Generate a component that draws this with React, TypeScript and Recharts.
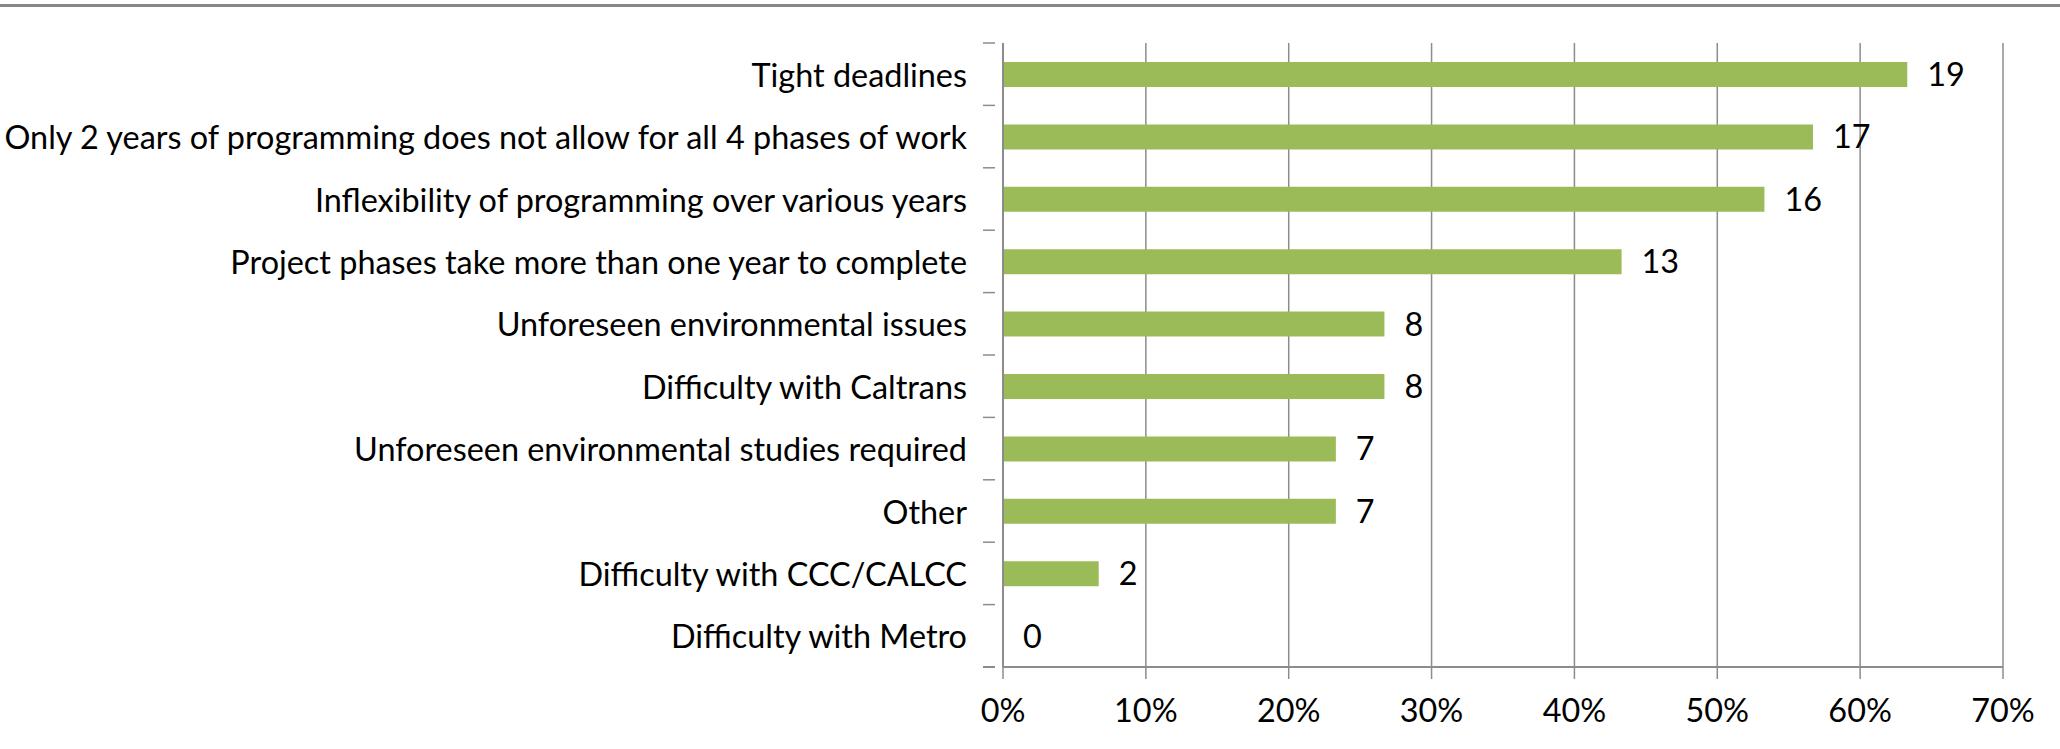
import React from 'react';
import { BarChart, Bar, XAxis, YAxis, CartesianGrid, LabelList } from 'recharts';

const categories = [
  'Tight deadlines',
  'Only 2 years of programming does not allow for all 4 phases of work',
  'Inflexibility of programming over various years',
  'Project phases take more than one year to complete',
  'Unforeseen environmental issues',
  'Difficulty with Caltrans',
  'Unforeseen environmental studies required',
  'Other',
  'Difficulty with CCC/CALCC',
  'Difficulty with Metro',
];
// share of respondents (%)
const percents = [63.3, 56.7, 53.3, 43.3, 26.7, 26.7, 23.3, 23.3, 6.7, 0];
// response counts printed at the bar ends
const counts = [19, 17, 16, 13, 8, 8, 7, 7, 2, 0];
const xTicks = [0, 10, 20, 30, 40, 50, 60, 70];

const data = categories.map((name, i) => ({ name, pct: percents[i], count: counts[i] }));

const FONT = 'Lato, "Open Sans", sans-serif';
const FS = 32.4;
const GRID = '#8c8c8c';
const TEXT = '#000000';

// Excel-style category tick: label centred in the band, tick marks on the band edges
const CategoryTick = (props: any) => {
  const { x, y, payload, index, visibleTicksCount } = props;
  const band = 62.4;
  const last = index === (visibleTicksCount ?? categories.length) - 1;
  return (
    <g>
      <line x1={x - 12} x2={x} y1={y - band / 2} y2={y - band / 2} stroke={GRID} strokeWidth={1.5} />
      {last && (
        <line x1={x - 12} x2={x} y1={y + band / 2} y2={y + band / 2} stroke={GRID} strokeWidth={2} />
      )}
      <text
        x={x - 28}
        y={y}
        textAnchor="end"
        dominantBaseline="central"
        fill={TEXT}
        fontSize={FS}
        fontFamily={FONT}
      >
        {payload.value}
      </text>
    </g>
  );
};

export default function App() {
  return (
    <div style={{ position: 'absolute', left: 0, top: 0, width: 2060, height: 749, background: '#fff' }}>
      <div style={{ position: 'absolute', left: 0, top: 4, width: 2060, height: 3, background: '#878787' }} />
      <BarChart
        width={2060}
        height={749}
        data={data}
        layout="vertical"
        margin={{ top: 43, right: 57, bottom: 0, left: 0 }}
      >
        <CartesianGrid horizontal={false} stroke={GRID} strokeWidth={1.5} />
        <XAxis
          type="number"
          domain={[0, 70]}
          ticks={xTicks}
          interval={0}
          height={82}
          tickFormatter={(v: number) => `${v}%`}
          tickSize={12}
          tickMargin={20}
          axisLine={{ stroke: GRID, strokeWidth: 2 }}
          tickLine={{ stroke: GRID, strokeWidth: 1.5 }}
          tick={{ fill: TEXT, fontSize: FS, fontFamily: FONT }}
        />
        <YAxis
          type="category"
          dataKey="name"
          width={1003}
          interval={0}
          tickLine={false}
          axisLine={{ stroke: GRID, strokeWidth: 2 }}
          tick={<CategoryTick />}
        />
        <Bar dataKey="pct" fill="#9bbb59" barSize={25} minPointSize={0.01} isAnimationActive={false}>
          <LabelList
            dataKey="count"
            position="right"
            offset={20}
            fill={TEXT}
            fontSize={FS}
            fontFamily={FONT}
          />
        </Bar>
      </BarChart>
    </div>
  );
}
